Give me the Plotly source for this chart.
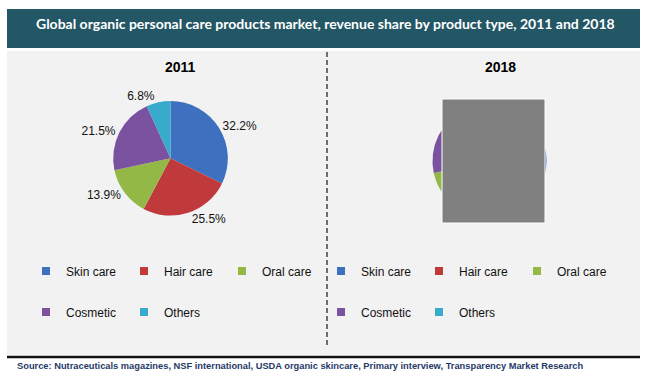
import plotly.graph_objects as go

# ---- data ----
categories = ["Skin care", "Hair care", "Oral care", "Cosmetic", "Others"]
share_2011 = [32.2, 25.5, 13.9, 21.5, 6.8]
share_2018 = [33.0, 24.6, 14.0, 21.4, 7.0]   # hidden in the reference (estimated)
colors = ["#3D70BE", "#C0393B", "#93B845", "#7A52A0", "#38AACC"]
title_text = "Global organic personal care products market, revenue share by product type, 2011 and 2018"
source_text = ("Source: Nutraceuticals magazines, NSF international, USDA organic skincare, "
               "Primary interview, Transparency Market Research")
years = ["2011", "2018"]

W, H = 650, 383
def px(x):
    return x / W
def py(y):
    return 1 - y / H

FONT = "Liberation Sans, Arial, sans-serif"

fig = go.Figure()

# left pie (2011)
cx, cy, r = 170.5, 158.3, 57.3
fig.add_trace(go.Pie(
    labels=categories, values=share_2011, sort=False, direction="clockwise", rotation=0,
    marker=dict(colors=colors, line=dict(width=0)),
    texttemplate="%{value:.1f}%", textposition="outside",
    outsidetextfont=dict(family=FONT, size=12, color="#111111"),
    domain=dict(x=[px(cx - r), px(cx + r)], y=[py(cy + r), py(cy - r)]),
    showlegend=False, hoverinfo="label+value",
))
# right pie (2018)
cx2, cy2, r2 = 489.5, 161.0, 57.0
fig.add_trace(go.Pie(
    labels=categories, values=share_2018, sort=False, direction="clockwise", rotation=0,
    marker=dict(colors=colors, line=dict(width=0)),
    textinfo="none",
    domain=dict(x=[px(cx2 - r2), px(cx2 + r2)], y=[py(cy2 + r2), py(cy2 - r2)]),
    showlegend=False, hoverinfo="label+value",
))

# legend entries (two rows per chart)
legend_map = [
    ("legend", "legend2"),   # left chart rows 1/2
    ("legend3", "legend4"),  # right chart rows 1/2
]
for chart_idx, (row1, row2) in enumerate(legend_map):
    for i, (cat, col) in enumerate(zip(categories, colors)):
        fig.add_trace(go.Scatter(
            x=[None], y=[None], mode="markers", name=cat,
            marker=dict(symbol="square", size=8, color=col),
            legend=row1 if i < 3 else row2, showlegend=True, hoverinfo="skip",
        ))

def leg(x, y):
    return dict(x=px(x), y=py(y), xanchor="left", yanchor="middle", orientation="h",
                entrywidth=53, entrywidthmode="pixels", bgcolor="rgba(0,0,0,0)",
                font=dict(family=FONT, size=12, color="#111111"), itemclick=False,
                itemdoubleclick=False)

LX_LEFT, LX_RIGHT = 26, 321
ROW1, ROW2 = 271, 312

shapes = [
    # header band
    dict(type="rect", xref="paper", yref="paper", x0=px(7), x1=px(640), y0=py(48), y1=py(9),
         fillcolor="#245766", line=dict(width=0), layer="below"),
    # grey panel
    dict(type="rect", xref="paper", yref="paper", x0=px(7), x1=px(640), y0=py(355), y1=py(51),
         fillcolor="#F2F2F2", line=dict(width=0), layer="below"),
    # bottom rule
    dict(type="line", xref="paper", yref="paper", x0=px(7), x1=px(640), y0=py(357), y1=py(357),
         line=dict(color="#111111", width=2.5), layer="below"),
    # divider
    dict(type="line", xref="paper", yref="paper", x0=px(327), x1=px(327), y0=py(52), y1=py(346),
         line=dict(color="#444444", width=1.5, dash="5px,3px"), layer="below"),
    # grey cover over 2018 pie
    dict(type="rect", xref="paper", yref="paper", x0=px(442), x1=px(545), y0=py(223), y1=py(99),
         fillcolor="#808080", line=dict(color="#FFFFFF", width=1), layer="above"),
]

annotations = [
    dict(text=f"<b>{title_text}</b>", x=px(325), y=py(24), xref="paper", yref="paper",
         showarrow=False, xanchor="center", yanchor="middle",
         font=dict(family="Lato, Open Sans, sans-serif", size=14, color="#FFFFFF")),
    dict(text=f"<b>{years[0]}</b>", x=px(180), y=py(67), xref="paper", yref="paper",
         showarrow=False, xanchor="center", yanchor="middle",
         font=dict(family=FONT, size=14, color="#000000")),
    dict(text=f"<b>{years[1]}</b>", x=px(500), y=py(67), xref="paper", yref="paper",
         showarrow=False, xanchor="center", yanchor="middle",
         font=dict(family=FONT, size=14, color="#000000")),
    dict(text=f"<b>{source_text}</b>", x=px(15), y=py(366), xref="paper", yref="paper",
         showarrow=False, xanchor="left", yanchor="middle",
         font=dict(family="Liberation Sans Narrow, Arial Narrow, Liberation Sans, sans-serif",
                   size=9.3, color="#1F3A68")),
]

fig.update_layout(
    width=W, height=H, autosize=False,
    margin=dict(l=0, r=0, t=0, b=0),
    paper_bgcolor="#FFFFFF", plot_bgcolor="rgba(0,0,0,0)",
    xaxis=dict(visible=False), yaxis=dict(visible=False),
    shapes=shapes, annotations=annotations,
    legend=leg(LX_LEFT, ROW1), legend2=leg(LX_LEFT, ROW2),
    legend3=leg(LX_RIGHT, ROW1), legend4=leg(LX_RIGHT, ROW2),
    showlegend=True,
)

fig.write_html("out.html",
               config={"displayModeBar": False},
               post_script="document.body.style.margin='0';document.body.style.overflow='hidden';")
